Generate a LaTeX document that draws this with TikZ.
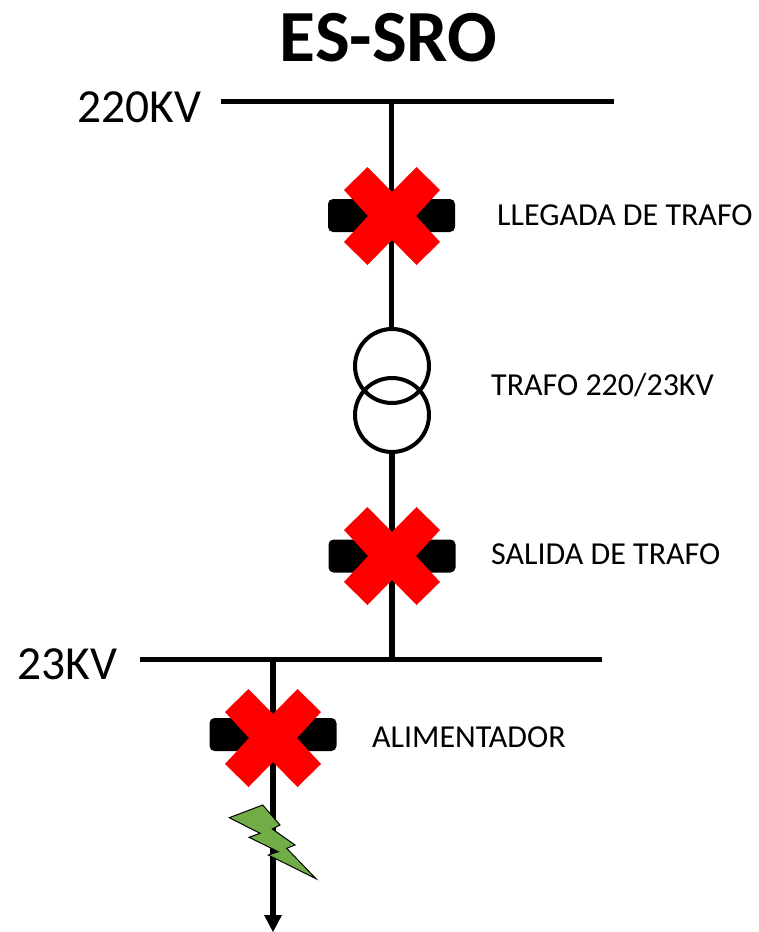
\documentclass[tikz,border=0pt]{standalone}
\usepackage{fontspec}
\setmainfont{Carlito}
\begin{document}
\begin{tikzpicture}[x=1pt,y=-1pt,
  busline/.style={line width=5pt,black},
  wire/.style={line width=5.2pt,black},
  breaker/.style={fill=black,rounded corners=5pt,minimum width=127pt,minimum height=33pt,inner sep=0pt},
  winding/.style={circle,draw=black,line width=4pt,minimum size=74pt,inner sep=0pt},
  lab/.style={anchor=west,inner sep=0pt,font=\fontsize{32}{36}\selectfont},
  volt/.style={anchor=west,inner sep=0pt,font=\fontsize{47.5}{54}\selectfont},
  redcross/.pic={\fill[red] (-24.5,-49)--(0,-24)--(24.5,-49)--(48,-26)--(24,0)--(48,26)--(24.5,49)--(0,24)--(-24.5,49)--(-48,26)--(-24,0)--(-48,-26)--cycle;}
]
\useasboundingbox (0,0) rectangle (759,932);
\coordinate (busAw) at (221,101);
\coordinate (busAe) at (614,101);
\coordinate (busAt) at (391.5,101);
\coordinate (busBw) at (140,659);
\coordinate (busBe) at (602,659);
\coordinate (busBt) at (392,659);
\coordinate (busBf) at (273,659);
\node[breaker] (brA) at (391.5,215.5) {};
\node[breaker] (brB) at (392,556) {};
\node[breaker] (brC) at (273,734.5) {};
\node[winding] (trU) at (392,366) {};
\node[winding] (trL) at (392,415) {};
\draw[busline] (busAw) -- (busAe);
\draw[busline] (busBw) -- (busBe);
\draw[wire] (busAt) -- (brA.center);
\draw[wire] (brA.center) -- (brA.center |- trU.north);
\draw[wire] (trL.south) -- (brB);
\draw[wire] (brB) -- (busBt);
\draw[wire] (busBf) -- (brC);
\fill[black] (264,915) -- (282,915) -- (273,932) -- cycle;
\draw[wire] (brC) -- (273,917);
\pic at (392,216) {redcross};
\pic at (392,556) {redcross};
\pic at (273,738) {redcross};
\draw[fill={rgb,255:red,112;green,173;blue,71},draw=black,line width=1pt,line join=miter]
 (229.3,817.7)--(262.7,805)--(280,825)--(272.3,829)--(295,845)--(286.7,848.3)--(316,878.7)--(268.3,855)--(278.3,851.7)--(249,837.3)--(260,833.3)--cycle;
\node[inner sep=0pt,font=\fontsize{73.5}{80}\bfseries\selectfont] (title) at (388.5,38) {ES-SRO};
\node[volt] (v220) at (77,107) {220KV};
\node[volt] (v23) at (17,664) {23KV};
\node[lab] (l1) at (497,215) {LLEGADA DE TRAFO};
\node[lab] (l2) at (491,385) {TRAFO 220/23KV};
\node[lab] (l3) at (491,554) {SALIDA DE TRAFO};
\node[lab] (l4) at (372,737) {ALIMENTADOR};
\end{tikzpicture}
\end{document}
